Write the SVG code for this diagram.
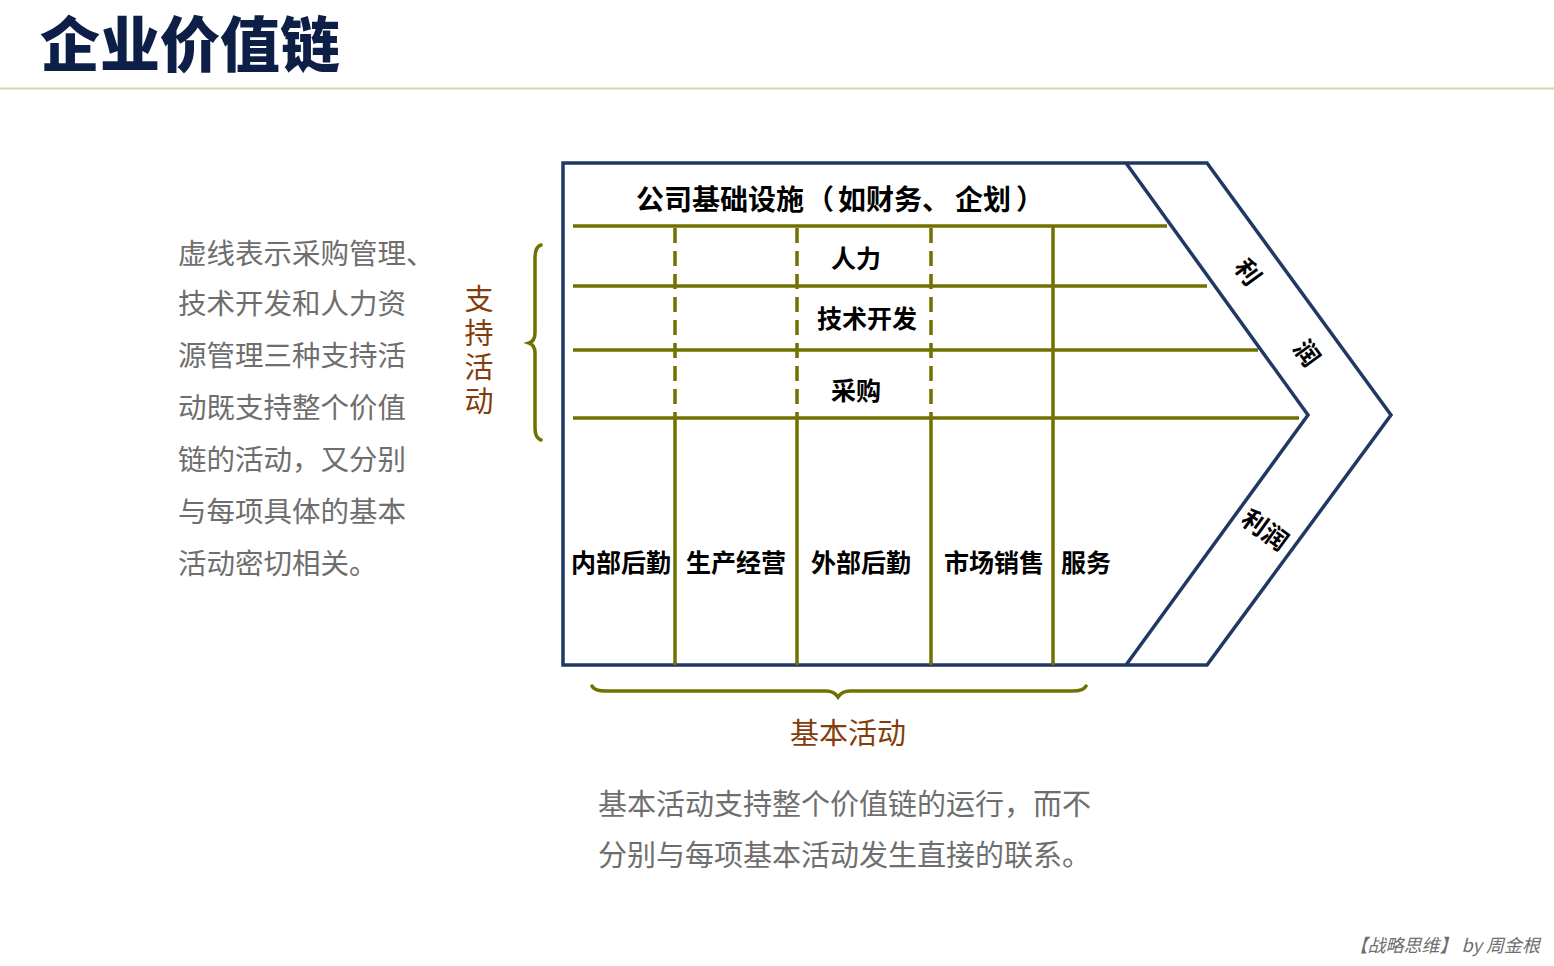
<svg xmlns="http://www.w3.org/2000/svg" width="1554" height="966" viewBox="0 0 1554 966">
<style>
.title{font-family:"Noto Sans CJK SC","Noto Sans",sans-serif;font-weight:900;font-size:60px;fill:#0D1F47}
.body{font-family:"Noto Sans CJK SC","Noto Sans",sans-serif;font-size:28.5px;fill:#6E6E6E}
.body29{font-family:"Noto Sans CJK SC","Noto Sans",sans-serif;font-size:29px;fill:#6E6E6E}
.brown{font-family:"Noto Sans CJK SC","Noto Sans",sans-serif;font-size:29px;fill:#843C0C}
.lbl{font-family:"Noto Sans CJK SC","Noto Sans",sans-serif;font-weight:700;font-size:25px;fill:#000}
.lbl28{font-family:"Noto Sans CJK SC","Noto Sans",sans-serif;font-weight:700;font-size:28px;fill:#000}
.frame{fill:none;stroke:#203864;stroke-width:3.5;stroke-linejoin:miter}
.ol{stroke:#717100;stroke-width:3.5;fill:none}
.dash{stroke:#717100;stroke-width:3.5;stroke-dasharray:15 8;fill:none}
.brace{stroke:#717100;stroke-width:3.5;fill:none;stroke-linecap:round}
.credit{font-family:"Noto Sans CJK SC","Noto Sans",sans-serif;font-style:italic;font-size:18px;fill:#6E6E6E}
</style>
<rect width="1554" height="966" fill="#fff"/>
<g id="title">
<text class="title" x="40" y="67">企业价值链</text>
<line x1="0" y1="88.5" x2="1554" y2="88.5" stroke="#D4D8A8" stroke-width="2"/>
</g>
<g id="note-left">
<text class="body" x="178" y="264">虚线表示采购管理、</text>
<text class="body" x="178" y="314">技术开发和人力资</text>
<text class="body" x="178" y="366">源管理三种支持活</text>
<text class="body" x="178" y="418">动既支持整个价值</text>
<text class="body" x="178" y="470">链的活动，又分别</text>
<text class="body" x="178" y="522">与每项具体的基本</text>
<text class="body" x="178" y="574">活动密切相关。</text>
</g>
<g id="support-label">
<text class="brown" x="479" y="284" writing-mode="vertical-rl" letter-spacing="5">支持活动</text>
<path class="brace" d="M541,245 Q535,247 535,258 L535,333 Q535,341 529,343 Q535,345 535,353 L535,428 Q535,438 541,440"/>
</g>
<g id="frame">
<path class="frame" d="M563,163 H1207 L1391,415 L1207,665 H563 Z"/>
<path class="frame" d="M1126,163 L1308,415 L1126,665"/>
</g>
<g id="connectors">
<line class="ol" x1="573" y1="226" x2="1167" y2="226"/>
<line class="ol" x1="573" y1="286" x2="1207" y2="286"/>
<line class="ol" x1="573" y1="350" x2="1258" y2="350"/>
<line class="ol" x1="573" y1="418" x2="1299" y2="418"/>
<line class="dash" x1="675" y1="228" x2="675" y2="418"/>
<line class="dash" x1="797" y1="228" x2="797" y2="418"/>
<line class="dash" x1="931" y1="228" x2="931" y2="418"/>
<line class="ol" x1="675" y1="418" x2="675" y2="665"/>
<line class="ol" x1="797" y1="418" x2="797" y2="665"/>
<line class="ol" x1="931" y1="418" x2="931" y2="665"/>
<line class="ol" x1="1053" y1="226" x2="1053" y2="665"/>
</g>
<g id="infrastructure"><text class="lbl28" y="210"><tspan x="636">公司基础设施</tspan><tspan x="806">（</tspan><tspan x="838">如财务、</tspan><tspan x="955">企划</tspan><tspan x="1016">）</tspan></text></g>
<g id="hr"><text class="lbl" x="856" y="268" text-anchor="middle">人力</text></g>
<g id="tech"><text class="lbl" x="867" y="328" text-anchor="middle">技术开发</text></g>
<g id="procurement"><text class="lbl" x="856" y="400" text-anchor="middle">采购</text></g>
<g id="inbound"><text class="lbl" x="621" y="572" text-anchor="middle">内部后勤</text></g>
<g id="operations"><text class="lbl" x="736" y="572" text-anchor="middle">生产经营</text></g>
<g id="outbound"><text class="lbl" x="861" y="572" text-anchor="middle">外部后勤</text></g>
<g id="marketing"><text class="lbl" x="994" y="572" text-anchor="middle">市场销售</text></g>
<g id="service"><text class="lbl" x="1061" y="572">服务</text></g>
<g id="margin-top">
<text class="lbl" transform="translate(1248,272) rotate(54)" x="0" y="9" text-anchor="middle">利</text>
<text class="lbl" transform="translate(1307,353) rotate(54)" x="0" y="9" text-anchor="middle">润</text>
</g>
<g id="margin-bottom">
<text class="lbl" transform="translate(1265,530) rotate(36)" x="0" y="9" text-anchor="middle">利润</text>
</g>
<g id="primary-label">
<path class="brace" d="M592,686 Q594,691 606,691 L826,691 Q834,691 838,697 Q842,691 850,691 L1072,691 Q1084,691 1086,686"/>
<text class="brown" x="848" y="744" text-anchor="middle">基本活动</text>
</g>
<g id="note-bottom">
<text class="body29" x="598" y="815">基本活动支持整个价值链的运行，而不</text>
<text class="body29" x="598" y="866">分别与每项基本活动发生直接的联系。</text>
</g>
<g id="credit"><text class="credit" x="1540" y="952" text-anchor="end">【战略思维】 by 周金根</text></g>
</svg>
